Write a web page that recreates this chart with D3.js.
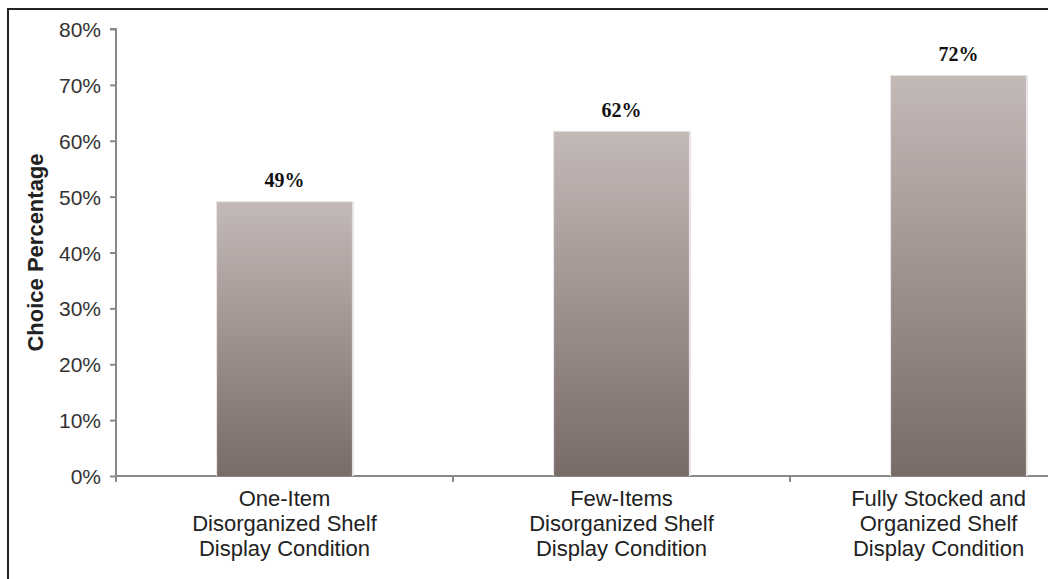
<!DOCTYPE html>
<html>
<head>
<meta charset="utf-8">
<script src="https://cdn.jsdelivr.net/npm/d3@7"></script>
<style>
  body { margin: 0; background: #fff; }
  svg { display: block; }
</style>
</head>
<body>
<script>
'use strict';

// Data
var categories = [
  ["One-Item", "Disorganized Shelf", "Display Condition"],
  ["Few-Items", "Disorganized Shelf", "Display Condition"],
  ["Fully Stocked and", "Organized Shelf", "Display Condition"]
];
var values = [49, 61.6, 71.6];
var valueLabels = ["49%", "62%", "72%"];
var yTicks = [0, 10, 20, 30, 40, 50, 60, 70, 80];

(function() {
  var width = 1048, height = 579;
  var margin = { left: 116, top: 29, right: -79, bottom: 103 };

  var svg = d3.select("body").append("svg")
      .attr("width", width)
      .attr("height", height);

  // Frame (left and top edges visible)
  svg.append("path")
      .attr("d", "M8,579 V9 H1048")
      .attr("fill", "none")
      .attr("stroke", "#222")
      .attr("stroke-width", 2);

  var defs = svg.append("defs");
  var grad = defs.append("linearGradient")
      .attr("id", "barGrad")
      .attr("x1", 0).attr("y1", 0).attr("x2", 0).attr("y2", 1);
  grad.append("stop").attr("offset", "0%").attr("stop-color", "#c3b9b6");
  grad.append("stop").attr("offset", "100%").attr("stop-color", "#796b67");

  // band step = 337, bar = 0.4 * step
  var x = d3.scaleBand()
      .domain(d3.range(categories.length))
      .range([margin.left, width - margin.right])
      .paddingInner(0.6)
      .paddingOuter(0.3);
  var y = d3.scaleLinear()
      .domain([0, 80])
      .range([height - margin.bottom, margin.top]);

  // Y axis
  var yAxis = d3.axisLeft(y)
      .tickValues(yTicks)
      .tickSize(6)
      .tickFormat(function(d) { return d + "%"; });

  var gy = svg.append("g")
      .attr("transform", "translate(" + margin.left + ",0)")
      .call(yAxis);
  gy.selectAll("path, line").attr("stroke", "#888").attr("stroke-width", 2);
  gy.select(".domain").attr("d", "M-6," + y(80) + "H0V" + y(0));
  gy.selectAll("text")
      .attr("x", -15)
      .attr("dy", "0.36em")
      .attr("fill", "#333")
      .style("font-family", "Liberation Sans, Arial, sans-serif")
      .style("font-size", "21px");

  // X axis baseline with category separators
  var step = x.step();
  var x0 = margin.left;
  var gx = svg.append("g");
  gx.append("line")
      .attr("x1", x0).attr("x2", width)
      .attr("y1", y(0)).attr("y2", y(0))
      .attr("stroke", "#888").attr("stroke-width", 2);
  gx.selectAll(".sep")
      .data(d3.range(categories.length + 1))
      .enter().append("line")
      .attr("x1", function(i) { return x0 + i * step; })
      .attr("x2", function(i) { return x0 + i * step; })
      .attr("y1", y(0)).attr("y2", y(0) + 6)
      .attr("stroke", "#888").attr("stroke-width", 2);

  // Bars with white halo breaking baseline
  var bars = svg.append("g");
  bars.selectAll(".halo")
      .data(values)
      .enter().append("rect")
      .attr("x", function(d, i) { return x(i) - 12; })
      .attr("width", x.bandwidth() + 24)
      .attr("y", function(d) { return y(d) - 4; })
      .attr("height", function(d) { return y(0) - y(d) + 3; })
      .attr("fill", "#fff");
  bars.selectAll(".shadow")
      .data(values)
      .enter().append("rect")
      .attr("x", function(d, i) { return x(i) - 1; })
      .attr("width", x.bandwidth() + 3)
      .attr("y", function(d) { return y(d) - 1; })
      .attr("height", function(d) { return y(0) - y(d) + 1; })
      .attr("fill", "#e6e3e2");
  bars.selectAll(".bar")
      .data(values)
      .enter().append("rect")
      .attr("class", "bar")
      .attr("x", function(d, i) { return x(i); })
      .attr("width", x.bandwidth())
      .attr("y", function(d) { return y(d); })
      .attr("height", function(d) { return y(0) - y(d); })
      .attr("fill", "url(#barGrad)");

  // Value labels
  svg.append("g").selectAll("text")
      .data(values)
      .enter().append("text")
      .attr("x", function(d, i) { return x(i) + x.bandwidth() / 2; })
      .attr("y", function(d) { return y(d) - 15; })
      .attr("text-anchor", "middle")
      .attr("fill", "#111")
      .style("font-family", "Liberation Serif, Times New Roman, serif")
      .style("font-weight", "bold")
      .style("font-size", "20px")
      .text(function(d, i) { return valueLabels[i]; });

  // Category labels (kept inside the picture at the right edge)
  var cl = svg.append("g").selectAll("text")
      .data(categories)
      .enter().append("text")
      .attr("text-anchor", "middle")
      .attr("fill", "#222")
      .style("font-family", "Liberation Sans, Arial, sans-serif")
      .style("font-size", "22px");
  cl.selectAll("tspan")
      .data(function(d, i) { return d.map(function(t) { return { t: t, i: i }; }); })
      .enter().append("tspan")
      .attr("x", function(d) { return x(d.i) + x.bandwidth() / 2; })
      .attr("y", function(d, j) { return y(0) + 30 + j * 25; })
      .text(function(d) { return d.t; });
  cl.each(function(d, i) {
    var w = 0;
    d3.select(this).selectAll("tspan").each(function() {
      w = Math.max(w, this.getComputedTextLength());
    });
    var cx = Math.min(x(i) + x.bandwidth() / 2, width - 22 - w / 2);
    d3.select(this).selectAll("tspan").attr("x", cx);
  });

  // Y axis title
  svg.append("text")
      .attr("transform", "translate(43," + ((y(0) + y(80)) / 2) + ") rotate(-90)")
      .attr("text-anchor", "middle")
      .attr("fill", "#222")
      .style("font-family", "Liberation Sans, Arial, sans-serif")
      .style("font-weight", "bold")
      .style("font-size", "22px")
      .text("Choice Percentage");
})();
</script>
</body>
</html>
